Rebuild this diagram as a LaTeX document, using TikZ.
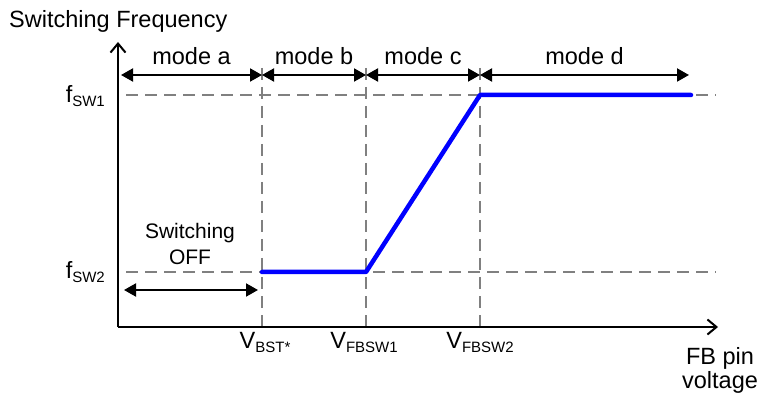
\documentclass[tikz,border=0pt]{standalone}
\usepackage{fontspec}
\setmainfont{Liberation Sans}
\usetikzlibrary{arrows.meta}
\tikzset{
  guide/.style={draw=black!50, line width=1.4pt, dash pattern=on 12pt off 7pt},
  axis/.style={line width=2pt, -{Straight Barb[length=9pt,width=15pt,line width=2pt]}},
  span/.style={line width=2pt, {Triangle[length=12pt,width=13pt]}-{Triangle[length=12pt,width=13pt]}},
  freq/.style={draw=blue, line width=4.5pt, line cap=round, line join=round},
  lbl/.style={inner sep=0pt, font=\fontsize{23.5}{24}\selectfont},
}
\newcommand{\lowsub}[1]{\raisebox{-4pt}{\fontsize{15}{15}\selectfont #1}}
\begin{document}
\begin{tikzpicture}[x=1pt,y=1pt]
    \useasboundingbox (0,0) rectangle (757,399);
    \begin{scope}
        \coordinate (O) at (118,72);
        \coordinate (ytop) at (118,357);
        \coordinate (xend) at (718,72);
        \coordinate (bst) at (262,72);
        \coordinate (sw1) at (366,72);
        \coordinate (sw2) at (480,72);
        \coordinate (dend) at (691,72);
        \coordinate (gtop) at (0,331);
        \coordinate (hi) at (126,304);
        \coordinate (hiend) at (716,304);
        \coordinate (lo) at (126,127);
        \coordinate (loend) at (716,127);
    \end{scope}
    % dashed guides
    \draw[guide] (hi) -- (hiend);
    \draw[guide] (lo) -- (loend);
    \draw[guide] (bst |- gtop) -- (bst);
    \draw[guide] (sw1 |- gtop) -- (sw1);
    \draw[guide] (sw2 |- gtop) -- (sw2);
    % axes
    \draw[axis] (O) -- (ytop);
    \draw[axis] (O) -- (xend);
    \node[lbl, anchor=base west] (title) at (9,371) {Switching Frequency};
    \node[lbl, anchor=center, align=center] (xlabel) at (720,29) {FB pin\\voltage};
    \node[lbl, anchor=base east] (fhi) at (105,296) {f\lowsub{SW1}};
    \node[lbl, anchor=base east] (flo) at (105,121) {f\lowsub{SW2}};
    \node[lbl, anchor=base] (vbst) at (265,51) {V\lowsub{BST*}};
    \node[lbl, anchor=base] (vsw1) at (364,51) {V\lowsub{FBSW1}};
    \node[lbl, anchor=base] (vsw2) at (480,51) {V\lowsub{FBSW2}};
    % frequency curve
    \draw[freq] (bst |- lo) -- (sw1 |- lo) -- (sw2 |- hi) -- (dend |- hi);
    % modes
    \begin{scope}
        \coordinate (a0) at (121,324);
        \coordinate (a1) at (262,324);
        \coordinate (a2) at (366,324);
        \coordinate (a3) at (480,324);
        \coordinate (a4) at (689,324);
        \draw[span] (a0) -- node[lbl, above=9pt] (ma) {mode a} (a1);
        \draw[span] (a1) -- node[lbl, above=9pt] (mb) {mode b} (a2);
        \draw[span] (a2) -- node[lbl, above=9pt] (mc) {mode c} (a3);
        \draw[span] (a3) -- node[lbl, above=9pt] (md) {mode d} (a4);
    \end{scope}
    \begin{scope}
        \coordinate (off0) at (124,109);
        \coordinate (off1) at (258,109);
        \draw[span] (off0) -- (off1);
        \node[inner sep=0pt, align=center, font=\fontsize{21}{26}\selectfont] (off) at (190,155) {Switching\\OFF};
    \end{scope}
\end{tikzpicture}
\end{document}
